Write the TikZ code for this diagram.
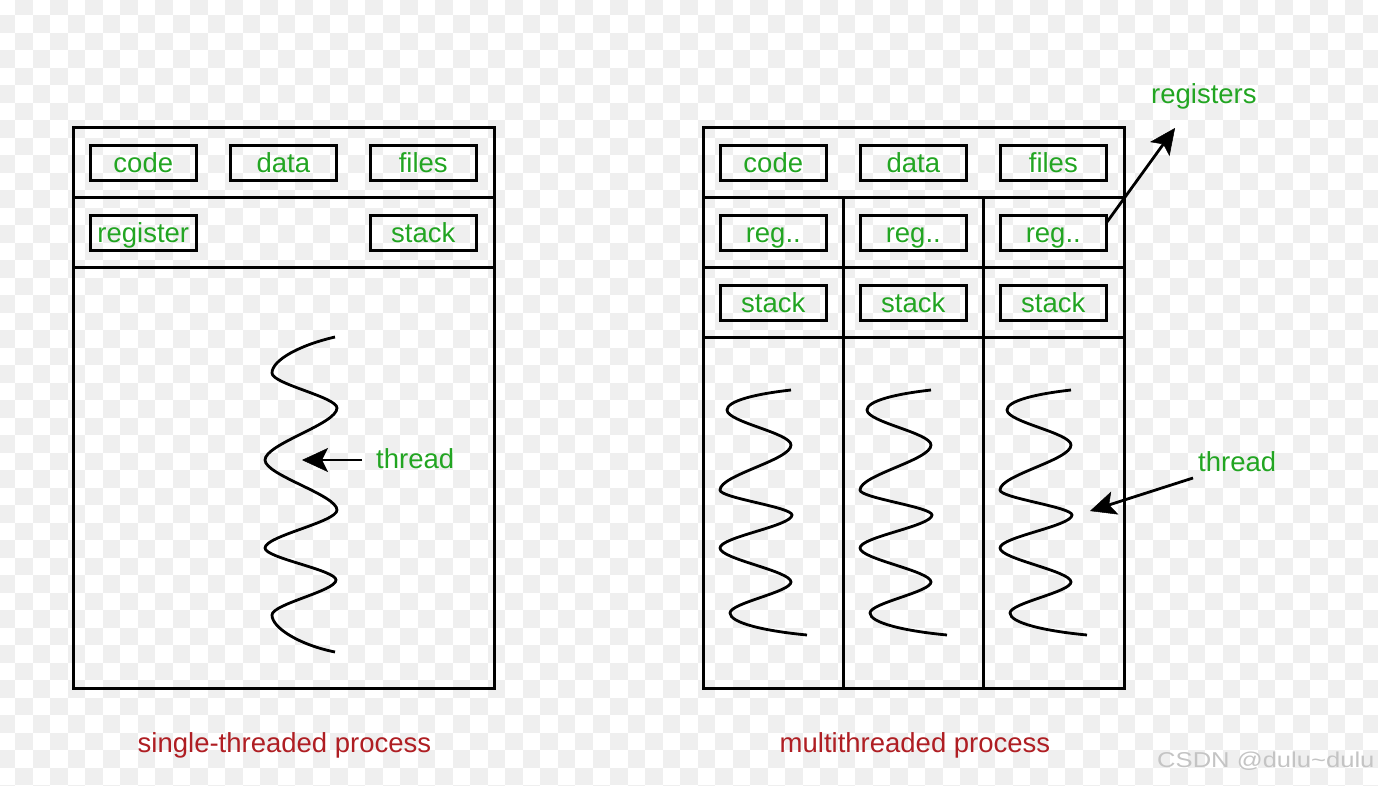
\documentclass[tikz,border=0pt]{standalone}
\usepackage{fontspec}
\setmainfont{Liberation Sans}
\usetikzlibrary{arrows.meta}
\definecolor{chk}{RGB}{239,239,239}
\definecolor{lblgreen}{RGB}{34,165,34}
\definecolor{capred}{RGB}{175,30,35}
\definecolor{wmgray}{RGB}{196,196,196}
\begin{document}
\begin{tikzpicture}[x=1pt,y=-1pt,
  frame/.style={draw=black,line width=3pt},
  cell/.style={draw=black,line width=3pt,minimum width=106pt,minimum height=35pt,inner sep=0pt,
    text height=20pt,text depth=1pt,font=\fontsize{27.5}{30}\selectfont,text=lblgreen},
  lbl/.style={font=\fontsize{27.5}{30}\selectfont,text=lblgreen,inner sep=0pt,anchor=base west},
  capt/.style={font=\fontsize{27.5}{30}\selectfont,text=capred,inner sep=0pt,anchor=base},
  wave/.style={draw=black,line width=2.8pt},
  arr/.style={draw=black,line width=2.8pt,-{Stealth[length=26pt 0 0,width=24pt 0,inset=6pt 0,line width=0.5pt]}},
]
\useasboundingbox (0,0) rectangle (1378,785);
% checkerboard background
\begin{scope}
\clip (0,0) rectangle (1378,785);
\foreach \r in {0,...,45}{
  \pgfmathsetmacro\myparity{mod(\r,2)}
  \foreach \k in {0,...,39}{
    \fill[chk] ({-2.5+17.5*(2*\k+1-\myparity)},{-2.5+17.5*\r}) rectangle ++(17.5,17.5);
  }
}
\end{scope}

% ---------- single-threaded process ----------
\draw[frame] (73,127) rectangle (494,688);
\draw[frame] (73,197) -- (494,197);
\draw[frame] (73,267) -- (494,267);
\node[cell] (codeL) at (143.3,162.5) {code};
\node[cell] (dataL) at (283.3,162.5) {data};
\node[cell] (filesL) at (423.3,162.5) {files};
\node[cell] (regL) at (143.3,232.5) {register};
\node[cell] (stackL) at (423.3,232.5) {stack};

\draw[wave] (335,337) .. controls (300,345) and (272,360) .. (272,373)
  .. controls (272,384) and (337,397) .. (337,408)
  .. controls (337,424) and (265,444) .. (265,460)
  .. controls (265,475) and (337,495) .. (337,510)
  .. controls (337,522) and (265,536) .. (265,548)
  .. controls (265,558) and (336,570) .. (336,580)
  .. controls (336,591) and (272,604) .. (272,615)
  .. controls (272,628) and (300,645) .. (335,652);

\node[lbl] (threadL) at (376,468) {thread};
\coordinate (thLstart) at (362,460);
\coordinate (thLtip) at (302,460);
\draw[arr] (thLstart) -- (thLtip);

\node[capt] (capL) at (284.5,752) {single-threaded process};

% ---------- multithreaded process ----------
\draw[frame] (703,127) rectangle (1124,688);
\draw[frame] (703,197) -- (1124,197);
\draw[frame] (703,267) -- (1124,267);
\draw[frame] (703,337) -- (1124,337);
\draw[frame] (843.3,197) -- (843.3,688);
\draw[frame] (983.3,197) -- (983.3,688);
\node[cell] (codeR) at (773.3,162.5) {code};
\node[cell] (dataR) at (913.3,162.5) {data};
\node[cell] (filesR) at (1053.3,162.5) {files};
\node[cell] (reg1) at (773.3,232.5) {reg..};
\node[cell] (reg2) at (913.3,232.5) {reg..};
\node[cell] (reg3) at (1053.3,232.5) {reg..};
\node[cell] (stack1) at (773.3,302.5) {stack};
\node[cell] (stack2) at (913.3,302.5) {stack};
\node[cell] (stack3) at (1053.3,302.5) {stack};

\foreach \o in {0,140,280}{
\begin{scope}[shift={(\o,0)}]
\draw[wave] (791,390) .. controls (755,394) and (727,401) .. (727,410)
  .. controls (727,422) and (791,433) .. (791,445)
  .. controls (791,460) and (720,475) .. (720,490)
  .. controls (720,498) and (792,507) .. (792,515)
  .. controls (792,526) and (720,537) .. (720,548)
  .. controls (720,559) and (791,571) .. (791,582)
  .. controls (791,592) and (730,603) .. (730,613)
  .. controls (730,623) and (765,631) .. (807,635);
\end{scope}
}

\node[lbl] (registers) at (1151,103) {registers};
\coordinate (regstart) at (1107,222);
\coordinate (regtip) at (1175,128);
\draw[arr] (regstart) -- (regtip);

\node[lbl] (threadR) at (1198,471) {thread};
\coordinate (thRstart) at (1193,478);
\coordinate (thRtip) at (1090,511);
\draw[arr] (thRstart) -- (thRtip);

\node[capt] (capR) at (915,752) {multithreaded process};

% watermark
\node[anchor=base west,inner sep=0pt,text=wmgray,font=\fontsize{21.5}{24}\selectfont] (wm) at (1157,767)
  {\scalebox{1.19}[1]{CSDN @dulu\textasciitilde dulu}};
\end{tikzpicture}
\end{document}
